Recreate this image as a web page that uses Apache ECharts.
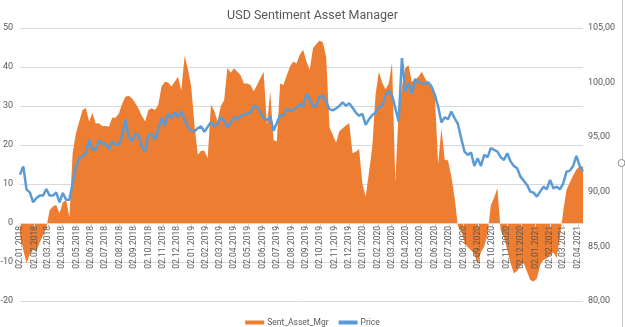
<!DOCTYPE html>
<html><head><meta charset="utf-8">
<script src="https://cdn.jsdelivr.net/npm/echarts@6/dist/echarts.min.js"></script>
<style>html,body{margin:0;padding:0;background:#fff}#c{width:625px;height:327px}</style>
</head><body><div id="c"></div>
<script>
// weekly observations (Tuesdays) starting 02.01.2018
const firstWeek = [2018, 1, 2];
const weekCount = 172;

const sentAssetMgr = [
  -3,-7,-10.3,-8,-6.8,-7.2,-5,-3.2,-1.2,3.3,
  4.2,4.6,2.5,5.3,5.9,1.5,18,23,26,29,
  29.5,26,28.2,25.5,25.6,24.8,24.9,24.7,27,27,
  28,30.5,32.4,32.6,32,30.8,29.3,27.5,26,29,
  29.4,29,30.3,35,36.2,36,35,36.2,37.5,34,
  42.9,39.5,35,25,17.5,18.5,18.5,16.6,30.3,28.7,
  26,30,31.5,39.8,38.5,39.7,38.8,37.9,35.8,35.8,
  35.4,33.8,35.4,37.1,38.8,25.1,33.7,21.3,20.9,35.8,
  35.4,37.8,40.1,41.4,40.9,43.2,44.4,41.4,39.2,44.8,
  45.9,46.8,46.3,42.5,24.5,22.6,20.6,23.5,24.3,25,
  25.6,17.9,18.3,19,10,6.7,13,19.5,33,38.8,
  36,34.3,35.8,41.2,10.6,28.5,35,39.7,40.5,36.2,
  36.7,37.5,38.8,37.1,35.8,35.5,32.8,15,24.3,16.2,
  16,12,6.5,-0.8,-2,-5,-6.2,-7,-8,-10.5,
  -7.5,-6,-3,4.5,6.5,9,-2,-3.5,-6.9,-10.3,
  -12.9,-12.3,-10.9,-10.3,-12.5,-14.6,-15,-14.2,-10.8,-9.5,
  -9.1,-8.2,-7.5,-9,-3.5,3,8.5,10.4,12.2,13.7,
  14.6,14.4
];

const price = [
  91.57,92.33,90.20,89.95,89.04,89.43,89.65,89.65,90.26,89.65,
  89.65,89.95,89.04,89.89,89.28,89.28,90.81,92.33,93.10,93.25,
  93.55,94.77,93.86,93.86,94.71,94.41,94.41,93.92,94.62,94.32,
  94.32,95.08,96.61,95.08,94.62,95.29,95.23,94.16,93.68,95.23,
  95.29,94.77,95.69,96.76,96.06,97.16,96.76,97.28,96.85,97.37,
  96.61,95.93,95.60,95.54,95.84,95.99,95.5,95.95,96.4,96.0,
  96.2,96.85,96.5,95.9,96.3,96.85,96.6,96.9,97.1,97.15,
  97.25,97.85,97.8,97.3,96.75,96.55,96.9,95.6,96.3,97.0,
  97.0,97.6,97.4,97.5,97.75,98.0,97.83,98.99,98.44,97.83,
  97.83,98.74,98.79,98.27,97.57,97.45,97.63,97.87,98.18,97.87,
  98.12,97.69,97.26,96.96,97.14,96.13,96.65,97.02,97.26,97.75,
  97.87,98.79,99.28,98.85,97.66,96.44,102.25,99.19,99.95,98.98,
  100.32,100.02,99.95,99.89,100.02,99.65,98.88,97.81,96.35,96.83,
  96.65,97.35,96.74,96.22,94.91,93.69,93.38,93.59,92.37,93.07,
  92.37,93.38,93.17,93.99,93.84,93.69,93.17,92.92,93.53,92.77,
  92.37,92.16,91.39,91.02,90.63,90.02,89.92,89.56,90.02,90.47,
  90.23,91.09,90.32,90.47,90.23,90.78,91.85,91.94,92.37,93.29,
  92.37,91.85
];

const tickLabels = [
  '02.01.2018','02.02.2018','02.03.2018','02.04.2018','02.05.2018','02.06.2018',
  '02.07.2018','02.08.2018','02.09.2018','02.10.2018','02.11.2018','02.12.2018',
  '02.01.2019','02.02.2019','02.03.2019','02.04.2019','02.05.2019','02.06.2019',
  '02.07.2019','02.08.2019','02.09.2019','02.10.2019','02.11.2019','02.12.2019',
  '02.01.2020','02.02.2020','02.03.2020','02.04.2020','02.05.2020','02.06.2020',
  '02.07.2020','02.08.2020','02.09.2020','02.10.2020','02.11.2020','02.12.2020',
  '02.01.2021','02.02.2021','02.03.2021','02.04.2021'
];

const DAY = 86400000;
const t0 = Date.UTC(firstWeek[0], firstWeek[1]-1, firstWeek[2]);
const dates = [];
for (let i = 0; i < weekCount; i++) dates.push(t0 + i*7*DAY);

const tickTimes = tickLabels.map(s => { const p = s.split('.').map(Number); return Date.UTC(p[2], p[1]-1, p[0]); });
const labelByTime = {};
tickTimes.forEach((t, i) => { labelByTime[t] = tickLabels[i]; });

const LEFT_MIN = -20, LEFT_MAX = 50;
const GRID = {left: 20, right: 42, top: 28, bottom: 26};
const plotH = 327 - GRID.top - GRID.bottom;
const zeroOffset = -plotH * (0 - LEFT_MIN) / (LEFT_MAX - LEFT_MIN);

const FONT = 'Roboto';
const chart = echarts.init(document.getElementById('c'), null, {renderer:'canvas'});
chart.setOption({
  animation: false,
  backgroundColor: '#fff',
  title: {text: 'USD Sentiment Asset Manager', left: 'center', top: 4,
    textStyle: {fontFamily: FONT, fontSize: 12.5, fontWeight: 'normal', color: '#595959'}},
  legend: {top: 313, left: 'center', itemWidth: 19, itemHeight: 4, itemGap: 10,
    textStyle: {fontFamily: FONT, fontSize: 8.5, color: '#595959', padding: [0, 0, 0, -2]},
    data: [{name: 'Sent_Asset_Mgr', icon: 'rect'}, {name: 'Price', icon: 'rect', itemStyle: {color: '#5B9BD5'}}]},
  grid: Object.assign({containLabel: false, outerBoundsMode: 'none'}, GRID),
  xAxis: {
    type: 'value', min: dates[0], max: dates[dates.length-1], z: 10,
    offset: zeroOffset,
    axisLine: {show: true, onZero: false, lineStyle: {color: '#d9d9d9', width: 1}},
    axisTick: {show: true, customValues: tickTimes, length: 4, lineStyle: {color: '#d9d9d9'}},
    axisLabel: {customValues: tickTimes, rotate: 90, margin: 3, fontFamily: FONT, fontSize: 8.5, color: '#595959',
      showMinLabel: true, showMaxLabel: true,
      formatter: v => labelByTime[v] || ''},
    splitLine: {show: false}
  },
  yAxis: [
    {type: 'value', min: LEFT_MIN, max: LEFT_MAX, interval: 10,
      axisLabel: {fontFamily: FONT, fontSize: 9, color: '#595959', margin: 7},
      splitLine: {lineStyle: {color: '#d9d9d9', width: 1}},
      axisLine: {show: false}, axisTick: {show: false}},
    {type: 'value', min: 80, max: 105, interval: 5, position: 'right',
      axisLabel: {fontFamily: FONT, fontSize: 9, color: '#595959', margin: 5,
        formatter: v => v.toFixed(2).replace('.', ',')},
      splitLine: {show: false}, axisLine: {show: false}, axisTick: {show: false}}
  ],
  series: [
    {name: 'Sent_Asset_Mgr', type: 'line', yAxisIndex: 0, showSymbol: false, symbol: 'none',
      data: dates.map((d, i) => [d, sentAssetMgr[i]]),
      lineStyle: {width: 0}, areaStyle: {color: '#ED7D31', opacity: 1},
      itemStyle: {color: '#ED7D31'}},
    {name: 'Price', type: 'line', yAxisIndex: 1, showSymbol: false, symbol: 'none',
      data: dates.map((d, i) => [d, price[i]]),
      lineStyle: {width: 2.5, color: '#5B9BD5'}, itemStyle: {color: '#5B9BD5'}}
  ],
  graphic: [
    {type: 'line', shape: {x1: 622.5, y1: 0, x2: 622.5, y2: 327}, style: {stroke: '#c8c8c8', lineWidth: 1}},
    {type: 'circle', shape: {cx: 621.5, cy: 163, r: 3.5}, style: {fill: '#fff', stroke: '#8c8c8c', lineWidth: 1}}
  ]
});
</script>
</body></html>
